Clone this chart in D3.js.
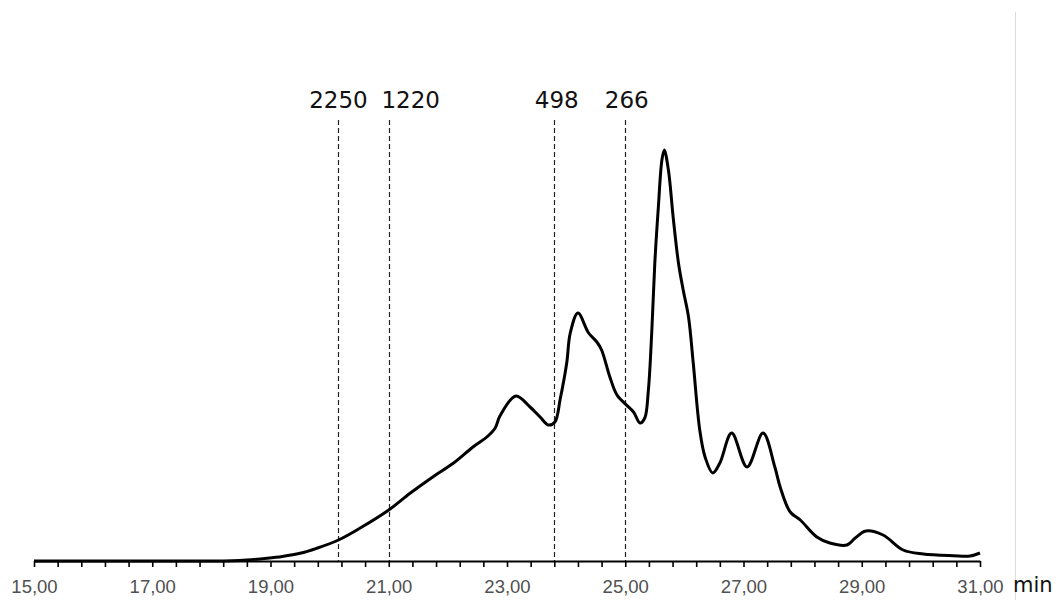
<!DOCTYPE html>
<html>
<head>
<meta charset="utf-8">
<script src="https://cdn.jsdelivr.net/npm/d3@7"></script>
<style>
  html, body { margin: 0; padding: 0; background: #fff; }
  svg { display: block; }
</style>
</head>
<body>
<svg id="chart" width="1057" height="600"></svg>
<script>
// Elution profile: retention time (min) and detector signal
const retentionTime = [
  15.00, 16.00, 17.00, 18.00, 18.35, 18.60, 18.94, 19.20, 19.50, 19.78,
  20.15, 20.51, 21.00, 21.36, 21.75, 22.09, 22.43, 22.66, 22.80, 22.88,
  23.15, 23.39, 23.56, 23.70, 23.81, 23.90, 24.01, 24.07, 24.20, 24.38,
  24.52, 24.60, 24.74, 24.86, 25.02, 25.14, 25.25, 25.33, 25.39, 25.45,
  25.50, 25.56, 25.62, 25.66, 25.73, 25.81, 25.90, 25.98, 26.07, 26.15,
  26.26, 26.35, 26.48, 26.60, 26.80, 27.06, 27.33, 27.53, 27.62, 27.79,
  27.96, 28.24, 28.46, 28.75, 28.89, 29.07, 29.36, 29.70, 30.04, 30.55,
  30.83, 31.00
];
const signal = [
  0, 0, 0, 0, 0.3, 1, 2.7, 4.5, 7.7, 12.7,
  21, 32.7, 51, 67.7, 84.3, 97.7, 114.3, 124, 133, 145,
  165, 154, 144, 136, 139, 162, 198, 228, 248, 228,
  219, 211, 184, 166, 156, 149, 138, 143, 170, 231,
  298, 354, 401, 411, 391, 344, 298, 271, 244, 198,
  131, 104, 88, 98, 128, 94, 128, 94, 74, 49,
  41, 24, 18, 16, 23, 30, 26, 11, 7, 5.3,
  5, 8
];

// Molecular-weight standards marked along the time axis
const markerTimes = [20.15, 21.00, 23.79, 25.00];
const markerLabels = ["2250", "1220", "498", "266"];

// Axis ticks: minor every 0.4 min, labelled every 2 min
const tickValues = d3.range(0, 41).map(i => +(15 + i * 0.4).toFixed(1));
const labelledTicks = [15, 17, 19, 21, 23, 25, 27, 29, 31];
const axisUnit = "min";

const svg = d3.select("#chart");
const margin = { left: 34, right: 77, top: 141, bottom: 39 };
const W = 1057, H = 600;

const x = d3.scaleLinear().domain([15, 31]).range([margin.left, W - margin.right]);
const y = d3.scaleLinear().domain([0, 420]).range([H - margin.bottom, H - margin.bottom - 420]);

const locale = d3.formatLocale({ decimal: ",", thousands: ".", grouping: [3], currency: ["", ""] });
const fmt = locale.format(".2f");

// faint frame edge on the right
svg.append("line")
  .attr("x1", 1015.5).attr("x2", 1015.5)
  .attr("y1", 12).attr("y2", H)
  .attr("stroke", "#dcdcdc").attr("stroke-width", 1);

// dashed marker lines
svg.append("g").selectAll("line")
  .data(markerTimes)
  .join("line")
  .attr("x1", d => Math.round(x(d)) + 0.5)
  .attr("x2", d => Math.round(x(d)) + 0.5)
  .attr("y1", 120)
  .attr("y2", y(0))
  .attr("stroke", "#222")
  .attr("stroke-width", 1.2)
  .attr("stroke-dasharray", "5,3");

// marker labels
const labelShift = { "1220": 22, "498": 3, "266": 1.5 };
svg.append("g").selectAll("text")
  .data(markerLabels)
  .join("text")
  .attr("x", (d, i) => x(markerTimes[i]) + (labelShift[d] || 0))
  .attr("y", 108)
  .attr("text-anchor", "middle")
  .attr("font-family", "DejaVu Sans, Verdana, sans-serif")
  .attr("font-size", 23)
  .attr("fill", "#111")
  .text(d => d);

// x axis
const axis = d3.axisBottom(x)
  .tickValues(tickValues)
  .tickSize(6)
  .tickSizeOuter(0)
  .tickFormat(d => labelledTicks.includes(d) ? fmt(d) : "");

const gx = svg.append("g")
  .attr("transform", `translate(0,${y(0)})`)
  .call(axis);
gx.select(".domain").attr("stroke", "#000").attr("stroke-width", 2);
gx.selectAll(".tick line").attr("stroke", "#000").attr("stroke-width", 1.6);
gx.selectAll(".tick text")
  .attr("y", 19)
  .attr("font-family", "Liberation Sans, Arial, sans-serif")
  .attr("font-size", 18.5)
  .attr("fill", "#505050");

svg.append("text")
  .attr("x", 1013)
  .attr("y", 592)
  .attr("font-family", "DejaVu Sans, Verdana, sans-serif")
  .attr("font-size", 21)
  .attr("fill", "#111")
  .text(axisUnit);

// signal trace
const points = retentionTime.map((t, i) => [t, signal[i]]);
const line = d3.line()
  .x(d => x(d[0]))
  .y(d => y(d[1]))
  .curve(d3.curveCatmullRom.alpha(0.5));

svg.append("path")
  .datum(points)
  .attr("fill", "none")
  .attr("stroke", "#000")
  .attr("stroke-width", 3)
  .attr("stroke-linejoin", "round")
  .attr("d", line);
</script>
</body>
</html>
